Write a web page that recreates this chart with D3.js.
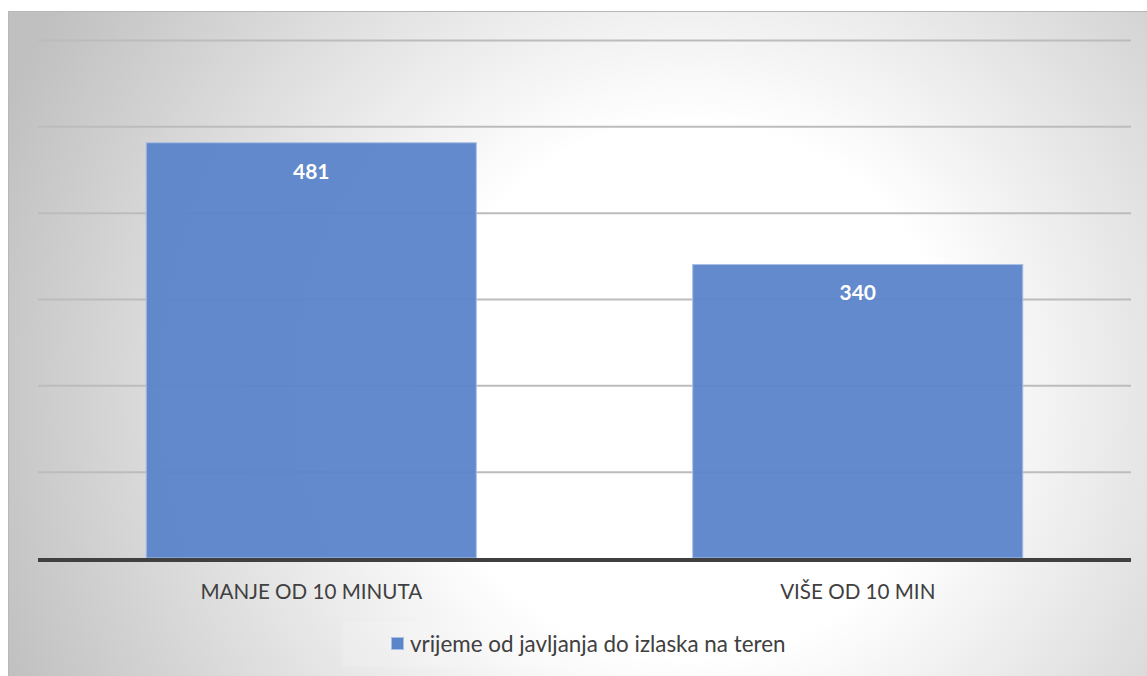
<html>
<head>
<meta charset="utf-8">
<style>
  body { margin: 0; background: #ffffff; }
  .grid line { stroke: #bcbcbc; stroke-width: 2px; }
  .catLabel { font-family: Lato, sans-serif; font-size: 20.6px; fill: #404040; }
  .valLabel { font-family: Lato, sans-serif; font-size: 21px; font-weight: bold; fill: #ffffff; }
  .legendText { font-family: Lato, sans-serif; font-size: 22.4px; fill: #404040; }
</style>
</head>
<body>
<svg id="chart" width="1147" height="676"></svg>
<script src="https://d3js.org/d3.v7.min.js"></script>
<script>
  // data
  let categories = ["MANJE OD 10 MINUTA", "VIŠE OD 10 MIN"]
  let values = [481, 340]
  let yTicks = [100, 200, 300, 400, 500, 600]
  let seriesName = "vrijeme od javljanja do izlaska na teren"

  let svg = d3.select("#chart")
  let barColor = "#5b84c9"

  // background with radial gradient
  let defs = svg.append("defs")
  let grad = defs.append("radialGradient")
      .attr("id", "bg")
      .attr("gradientUnits", "userSpaceOnUse")
      .attr("cx", 690).attr("cy", 390).attr("r", 740)
  grad.append("stop").attr("offset", "0").attr("stop-color", "#ffffff")
  grad.append("stop").attr("offset", "0.36").attr("stop-color", "#ffffff")
  grad.append("stop").attr("offset", "1").attr("stop-color", "#c0c0c0")

  svg.append("rect")
      .attr("x", 8.5).attr("y", 11.5)
      .attr("width", 1147).attr("height", 676)
      .attr("fill", "url(#bg)")
      .attr("stroke", "#b8b8b8")
      .attr("stroke-width", 1)

  // scales
  let xScale = d3.scaleBand()
      .domain(categories)
      .range([38, 1131])
      .paddingInner(0.396)
      .paddingOuter(0.198)
  let yScale = d3.scaleLinear()
      .domain([0, 600])
      .range([558, 40])

  // gridlines
  let grid = svg.append("g")
      .attr("class", "grid")
      .attr("transform", "translate(38,0)")
      .call(d3.axisLeft(yScale).tickValues(yTicks).tickSize(-(1131 - 38)).tickFormat(""))
  grid.select(".domain").remove()

  // bars
  svg.selectAll(".bar")
      .data(values)
      .join("rect")
      .attr("class", "bar")
      .attr("x", (d, i) => xScale(categories[i]))
      .attr("y", d => yScale(d))
      .attr("width", xScale.bandwidth())
      .attr("height", d => yScale(0) - yScale(d))
      .attr("fill", barColor)
      .attr("fill-opacity", 0.95)
      .attr("stroke", "#a9c0e6")
      .attr("stroke-width", 1)

  // value labels
  svg.selectAll(".valLabel")
      .data(values)
      .join("text")
      .attr("class", "valLabel")
      .attr("x", (d, i) => xScale(categories[i]) + xScale.bandwidth() / 2)
      .attr("y", d => yScale(d) + 36)
      .attr("text-anchor", "middle")
      .text(d => d)

  // baseline
  svg.append("line")
      .attr("x1", 38).attr("x2", 1131)
      .attr("y1", yScale(0) + 2).attr("y2", yScale(0) + 2)
      .attr("stroke", "#404040")
      .attr("stroke-width", 4)

  // category labels
  svg.selectAll(".catLabel")
      .data(categories)
      .join("text")
      .attr("class", "catLabel")
      .attr("x", d => xScale(d) + xScale.bandwidth() / 2)
      .attr("y", 599)
      .attr("text-anchor", "middle")
      .text(d => d)

  // legend
  svg.append("rect")
      .attr("x", 342).attr("y", 622)
      .attr("width", 486).attr("height", 45)
      .attr("fill", "#ffffff")
      .attr("fill-opacity", 0.15)
  svg.append("rect")
      .attr("x", 391.5).attr("y", 637.5)
      .attr("width", 12).attr("height", 12)
      .attr("fill", barColor)
      .attr("stroke", "#a9c0e6")
  svg.append("text")
      .attr("class", "legendText")
      .attr("x", 410)
      .attr("y", 652)
      .text(seriesName)
</script>
</body>
</html>
